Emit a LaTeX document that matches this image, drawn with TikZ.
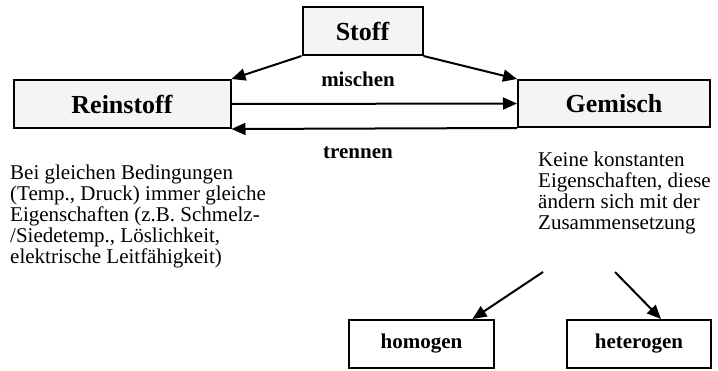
\documentclass[tikz,border=0pt]{standalone}
\usepackage{fontspec}
\setmainfont{Liberation Serif}
\usetikzlibrary{arrows.meta}
\definecolor{boxgray}{HTML}{F4F4F4}

\begin{document}
\begin{tikzpicture}[x=1pt,y=1pt]
\tikzstyle{every node}+=[inner sep=0pt]
\tikzstyle{bigbox}=[draw=black,line width=2pt,fill=boxgray,font=\fontsize{26}{30}\selectfont\bfseries]
\tikzstyle{smallbox}=[draw=black,line width=2pt,fill=white,font=\fontsize{21}{24}\selectfont\bfseries]
\tikzstyle{pfeil}=[line width=2pt,-{Triangle[length=14pt,width=12pt]}]
\tikzstyle{lbl}=[font=\fontsize{21}{24}\selectfont\bfseries]
\tikzstyle{txt}=[font=\fontsize{21}{20.8}\selectfont,align=left,anchor=base west]
\useasboundingbox (0,0) rectangle (718,-370);
% boxes
\node [bigbox,minimum width=120pt,minimum height=48pt] (stoff) at (362.5,-31) {Stoff};
\node [bigbox,minimum width=217pt,minimum height=48pt] (rein) at (122,-104) {Reinstoff};
\node [bigbox,minimum width=192pt,minimum height=47pt] (gemisch) at (614,-103.5) {Gemisch};
\node [smallbox,minimum width=145pt,minimum height=48pt] (homo) at (421.5,-344) {homogen};
\node [smallbox,minimum width=144pt,minimum height=48pt] (hetero) at (639,-344) {heterogen};
% labels
\node [lbl,anchor=base] (mischen) at (358,-86) {mischen};
\node [lbl,anchor=base] (trennen) at (358,-158) {trennen};
% texts (base = last line)
\node [txt] (reintxt) at (10,-263) {Bei gleichen Bedingungen\\(Temp., Druck) immer gleiche\\Eigenschaften (z.B. Schmelz-\\/Siedetemp., Löslichkeit,\\elektrische Leitfähigkeit)};
\node [txt] (gemtxt) at (538,-229) {Keine konstanten\\Eigenschaften, diese\\ändern sich mit der\\Zusammensetzung};
\coordinate (ga) at (543,-272);
\coordinate (gb) at (615,-272);
% arrows
\draw [pfeil] (stoff.south west) -- (rein.north east);
\draw [pfeil] (stoff.south east) -- (gemisch.north west);
\draw [pfeil] (rein.east) -- (gemisch.west);%mischen
\draw [pfeil] (gemisch.south west) -- (rein.south east);%trennen
\draw [pfeil] (ga) -- ([xshift=51pt]homo.north);
\draw [pfeil] (gb) -- ([xshift=22pt]hetero.north);
\end{tikzpicture}
\end{document}
